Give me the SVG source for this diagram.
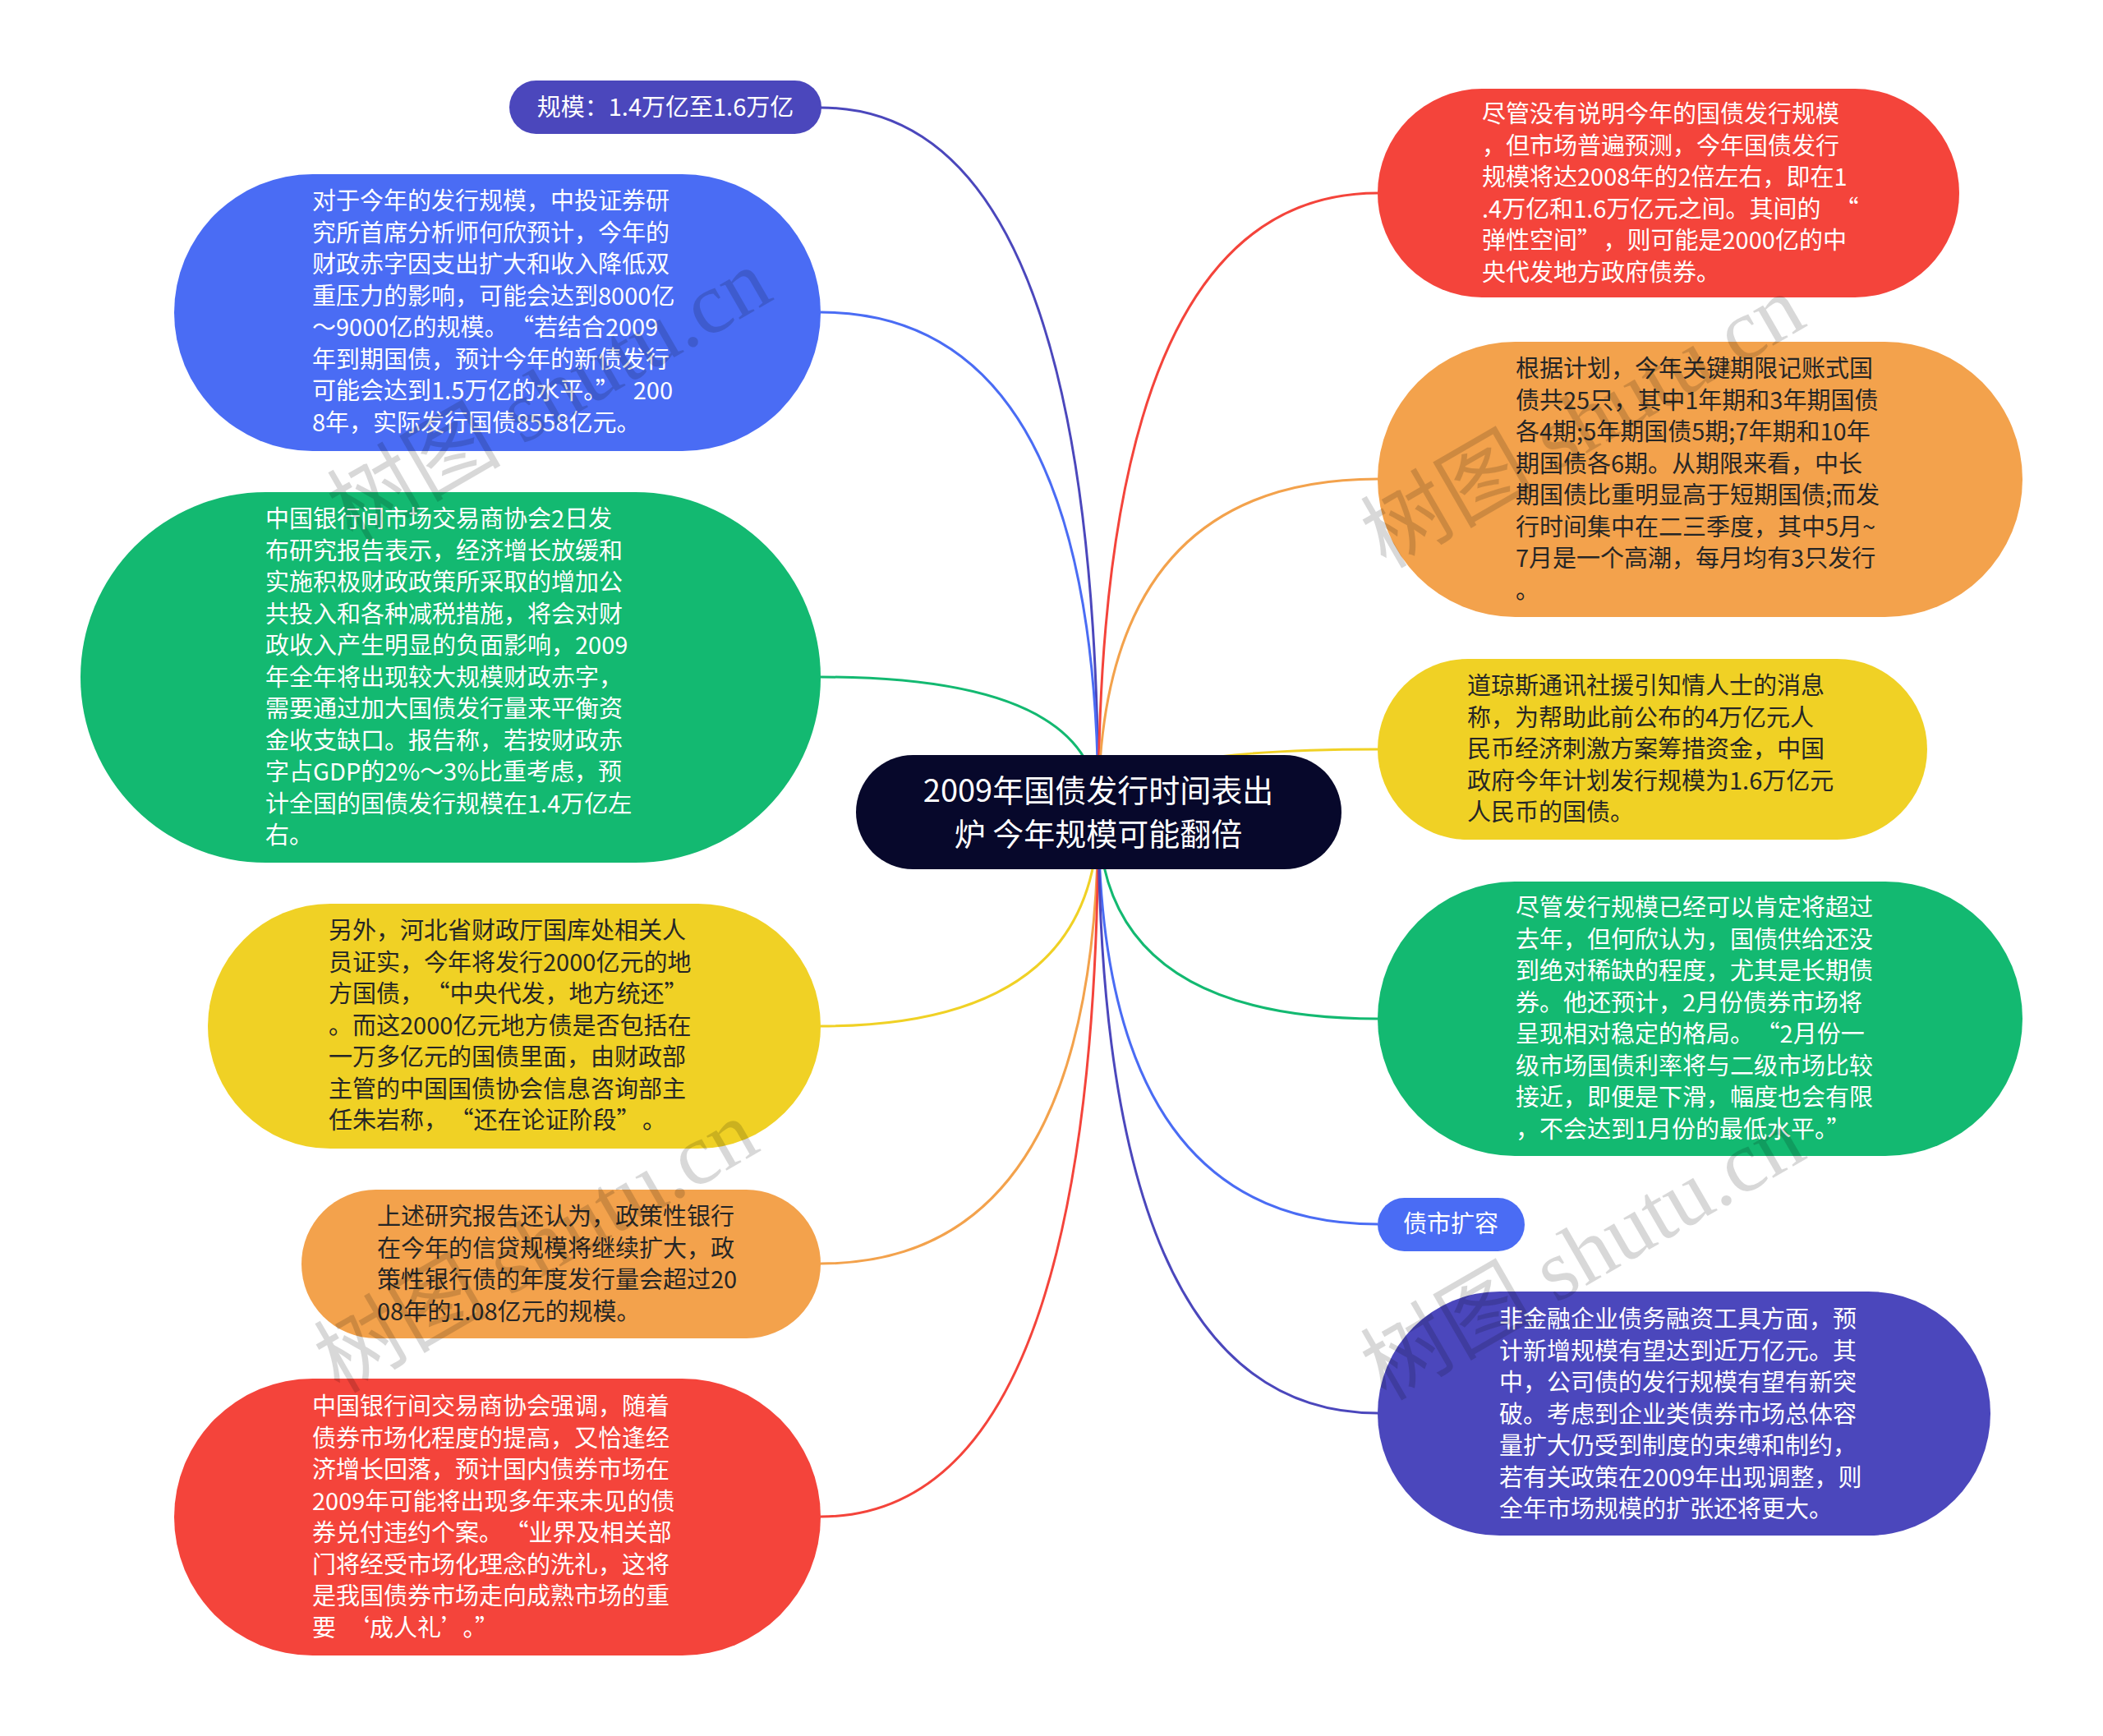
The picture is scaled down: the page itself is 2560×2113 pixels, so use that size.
<svg xmlns="http://www.w3.org/2000/svg" width="2560" height="2113" viewBox="0 0 2560 2113">
<style>
.t{font-family:'Noto Sans CJK SC','Noto Sans',sans-serif;font-size:29px}
.w{fill:#ffffff}
.d{fill:#262626}
.c{fill:none;stroke-width:3}
.wm{font-family:'Liberation Serif','Noto Sans CJK SC',serif;font-size:106px;fill:#000;opacity:0.15}
</style>
<rect width="2560" height="2113" fill="#ffffff"/>
<g id="connectors">
<path class="c" stroke="#4b47bc" d="M1337 988 Q1337 131 999 131"/>
<path class="c" stroke="#4a6cf4" d="M1337 988 Q1337 380 999 380"/>
<path class="c" stroke="#13b971" d="M1337 988 Q1337 824 999 824"/>
<path class="c" stroke="#f0d125" d="M1337 988 Q1337 1249 999 1249"/>
<path class="c" stroke="#f3a24c" d="M1337 988 Q1337 1538 999 1538"/>
<path class="c" stroke="#f4443b" d="M1337 988 Q1337 1846 999 1846"/>
<path class="c" stroke="#f4443b" d="M1337 988 Q1337 235 1677 235"/>
<path class="c" stroke="#f3a24c" d="M1337 988 Q1337 583 1677 583"/>
<path class="c" stroke="#f0d125" d="M1337 988 Q1337 912 1677 912"/>
<path class="c" stroke="#13b971" d="M1337 988 Q1337 1240 1677 1240"/>
<path class="c" stroke="#4a6cf4" d="M1337 988 Q1337 1490 1677 1490"/>
<path class="c" stroke="#4b47bc" d="M1337 988 Q1337 1720 1677 1720"/>
</g>
<g id="root">
<rect x="1042" y="919" width="591" height="139" rx="69.5" fill="#07082b"/>
<text class="t w" x="1337" y="976" text-anchor="middle" style="font-size:38px">2009年国债发行时间表出<tspan x="1337" dy="53">炉 今年规模可能翻倍</tspan></text>
</g>
<g id="n-scale">
<rect x="620" y="98" width="380" height="65" rx="32.5" fill="#4b47bc"/>
<text class="t w" x="810" y="141" text-anchor="middle">规模：1.4万亿至1.6万亿</text>
</g>
<g id="n-blue-left">
<rect x="212" y="212" width="787" height="337" rx="168.5" fill="#4a6cf4"/>
<text class="t w" x="380" y="255"><tspan x="380">对于今年的发行规模，中投证券研</tspan><tspan x="380" dy="38.5">究所首席分析师何欣预计，今年的</tspan><tspan x="380" dy="38.5">财政赤字因支出扩大和收入降低双</tspan><tspan x="380" dy="38.5">重压力的影响，可能会达到8000亿</tspan><tspan x="380" dy="38.5">～9000亿的规模。<tspan dx="17">“</tspan>若结合2009</tspan><tspan x="380" dy="38.5">年到期国债，预计今年的新债发行</tspan><tspan x="380" dy="38.5">可能会达到1.5万亿的水平。”<tspan dx="17">200</tspan></tspan><tspan x="380" dy="38.5">8年，实际发行国债8558亿元。</tspan></text>
</g>
<g id="n-green-left">
<rect x="98" y="599" width="901" height="451" rx="225.5" fill="#13b971"/>
<text class="t w" x="323" y="642"><tspan x="323">中国银行间市场交易商协会2日发</tspan><tspan x="323" dy="38.5">布研究报告表示，经济增长放缓和</tspan><tspan x="323" dy="38.5">实施积极财政政策所采取的增加公</tspan><tspan x="323" dy="38.5">共投入和各种减税措施，将会对财</tspan><tspan x="323" dy="38.5">政收入产生明显的负面影响，2009</tspan><tspan x="323" dy="38.5">年全年将出现较大规模财政赤字，</tspan><tspan x="323" dy="38.5">需要通过加大国债发行量来平衡资</tspan><tspan x="323" dy="38.5">金收支缺口。报告称，若按财政赤</tspan><tspan x="323" dy="38.5">字占GDP的2%～3%比重考虑，预</tspan><tspan x="323" dy="38.5">计全国的国债发行规模在1.4万亿左</tspan><tspan x="323" dy="38.5">右。</tspan></text>
</g>
<g id="n-yellow-left">
<rect x="253" y="1100" width="746" height="298" rx="149" fill="#f0d125"/>
<text class="t d" x="400" y="1143"><tspan x="400">另外，河北省财政厅国库处相关人</tspan><tspan x="400" dy="38.5">员证实，今年将发行2000亿元的地</tspan><tspan x="400" dy="38.5">方国债，<tspan dx="17">“</tspan>中央代发，地方统还”</tspan><tspan x="400" dy="38.5">。而这2000亿元地方债是否包括在</tspan><tspan x="400" dy="38.5">一万多亿元的国债里面，由财政部</tspan><tspan x="400" dy="38.5">主管的中国国债协会信息咨询部主</tspan><tspan x="400" dy="38.5">任朱岩称，<tspan dx="17">“</tspan>还在论证阶段”<tspan dx="17">。</tspan></tspan></text>
</g>
<g id="n-orange-left">
<rect x="367" y="1448" width="632" height="181" rx="90.5" fill="#f3a24c"/>
<text class="t d" x="459" y="1491"><tspan x="459">上述研究报告还认为，政策性银行</tspan><tspan x="459" dy="38.5">在今年的信贷规模将继续扩大，政</tspan><tspan x="459" dy="38.5">策性银行债的年度发行量会超过20</tspan><tspan x="459" dy="38.5">08年的1.08亿元的规模。</tspan></text>
</g>
<g id="n-red-left">
<rect x="212" y="1678" width="787" height="337" rx="168.5" fill="#f4443b"/>
<text class="t w" x="380" y="1722"><tspan x="380">中国银行间交易商协会强调，随着</tspan><tspan x="380" dy="38.5">债券市场化程度的提高，又恰逢经</tspan><tspan x="380" dy="38.5">济增长回落，预计国内债券市场在</tspan><tspan x="380" dy="38.5">2009年可能将出现多年来未见的债</tspan><tspan x="380" dy="38.5">券兑付违约个案。<tspan dx="17">“</tspan>业界及相关部</tspan><tspan x="380" dy="38.5">门将经受市场化理念的洗礼，这将</tspan><tspan x="380" dy="38.5">是我国债券市场走向成熟市场的重</tspan><tspan x="380" dy="38.5">要<tspan dx="12">‘</tspan>成人礼’<tspan dx="12">。”</tspan></tspan></text>
</g>
<g id="n-red-right">
<rect x="1677" y="108" width="708" height="254" rx="127" fill="#f4443b"/>
<text class="t w" x="1804" y="149"><tspan x="1804">尽管没有说明今年的国债发行规模</tspan><tspan x="1804" dy="38.5">，但市场普遍预测，今年国债发行</tspan><tspan x="1804" dy="38.5">规模将达2008年的2倍左右，即在1</tspan><tspan x="1804" dy="38.5">.4万亿和1.6万亿元之间。其间的<tspan dx="17">“</tspan></tspan><tspan x="1804" dy="38.5">弹性空间”<tspan dx="17">，则可能是2000亿的中</tspan></tspan><tspan x="1804" dy="38.5">央代发地方政府债券。</tspan></text>
</g>
<g id="n-orange-right">
<rect x="1677" y="416" width="785" height="335" rx="167.5" fill="#f3a24c"/>
<text class="t d" x="1845" y="459"><tspan x="1845">根据计划，今年关键期限记账式国</tspan><tspan x="1845" dy="38.5">债共25只，其中1年期和3年期国债</tspan><tspan x="1845" dy="38.5">各4期;5年期国债5期;7年期和10年</tspan><tspan x="1845" dy="38.5">期国债各6期。从期限来看，中长</tspan><tspan x="1845" dy="38.5">期国债比重明显高于短期国债;而发</tspan><tspan x="1845" dy="38.5">行时间集中在二三季度，其中5月~</tspan><tspan x="1845" dy="38.5">7月是一个高潮，每月均有3只发行</tspan><tspan x="1845" dy="38.5">。</tspan></text>
</g>
<g id="n-yellow-right">
<rect x="1677" y="802" width="669" height="220" rx="110" fill="#f0d125"/>
<text class="t d" x="1786" y="845"><tspan x="1786">道琼斯通讯社援引知情人士的消息</tspan><tspan x="1786" dy="38.5">称，为帮助此前公布的4万亿元人</tspan><tspan x="1786" dy="38.5">民币经济刺激方案筹措资金，中国</tspan><tspan x="1786" dy="38.5">政府今年计划发行规模为1.6万亿元</tspan><tspan x="1786" dy="38.5">人民币的国债。</tspan></text>
</g>
<g id="n-green-right">
<rect x="1677" y="1073" width="785" height="334" rx="167" fill="#13b971"/>
<text class="t w" x="1845" y="1115"><tspan x="1845">尽管发行规模已经可以肯定将超过</tspan><tspan x="1845" dy="38.5">去年，但何欣认为，国债供给还没</tspan><tspan x="1845" dy="38.5">到绝对稀缺的程度，尤其是长期债</tspan><tspan x="1845" dy="38.5">券。他还预计，2月份债券市场将</tspan><tspan x="1845" dy="38.5">呈现相对稳定的格局。<tspan dx="17">“</tspan>2月份一</tspan><tspan x="1845" dy="38.5">级市场国债利率将与二级市场比较</tspan><tspan x="1845" dy="38.5">接近，即便是下滑，幅度也会有限</tspan><tspan x="1845" dy="38.5">，不会达到1月份的最低水平。”</tspan></text>
</g>
<g id="n-bond-expand">
<rect x="1677" y="1458" width="179" height="65" rx="32.5" fill="#4a6cf4"/>
<text class="t w" x="1766" y="1500" text-anchor="middle">债市扩容</text>
</g>
<g id="n-indigo-right">
<rect x="1677" y="1572" width="746" height="297" rx="148.5" fill="#4b47bc"/>
<text class="t w" x="1825" y="1616"><tspan x="1825">非金融企业债务融资工具方面，预</tspan><tspan x="1825" dy="38.5">计新增规模有望达到近万亿元。其</tspan><tspan x="1825" dy="38.5">中，公司债的发行规模有望有新突</tspan><tspan x="1825" dy="38.5">破。考虑到企业类债券市场总体容</tspan><tspan x="1825" dy="38.5">量扩大仍受到制度的束缚和制约，</tspan><tspan x="1825" dy="38.5">若有关政策在2009年出现调整，则</tspan><tspan x="1825" dy="38.5">全年市场规模的扩张还将更大。</tspan></text>
</g>
<g id="watermarks">
<text class="wm" text-anchor="middle" transform="translate(669 482) rotate(-30)" y="35">树图 shutu.cn</text>
<text class="wm" text-anchor="middle" transform="translate(653 1518) rotate(-30)" y="35">树图 shutu.cn</text>
<text class="wm" text-anchor="middle" transform="translate(1927 514) rotate(-30)" y="35">树图 shutu.cn</text>
<text class="wm" text-anchor="middle" transform="translate(1927 1527) rotate(-30)" y="35">树图 shutu.cn</text>
</g>
</svg>
